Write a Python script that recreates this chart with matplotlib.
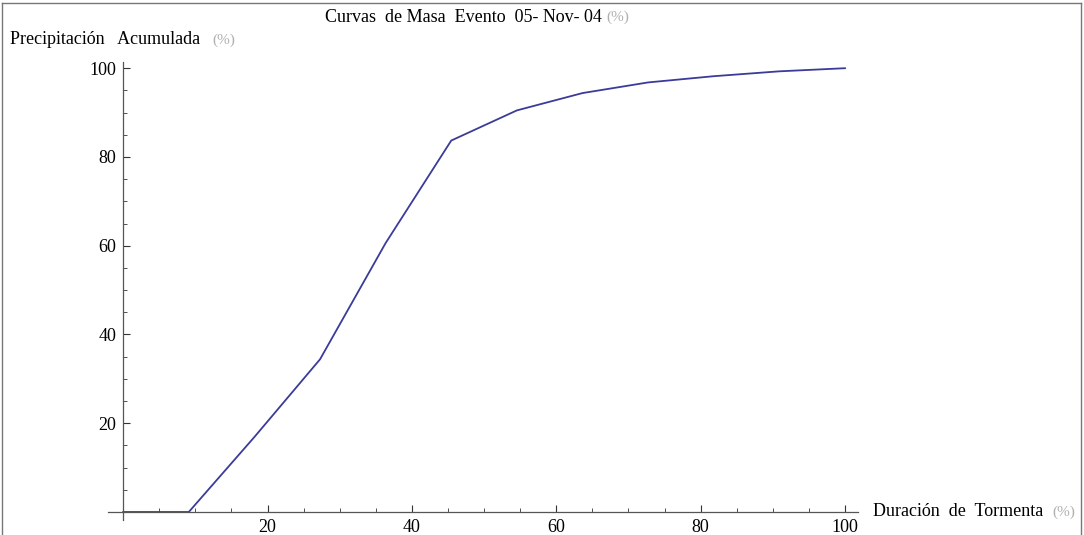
import matplotlib.pyplot as plt
from matplotlib.ticker import MultipleLocator

# data
duracion = [0, 9.09, 18.18, 27.27, 36.36, 45.45, 54.55, 63.64, 72.73, 81.82, 90.91, 100]
precipitacion = [0, 0, 16.9, 34.4, 60.6, 83.7, 90.5, 94.4, 96.8, 98.2, 99.3, 100]
x_ticks = [20, 40, 60, 80, 100]
y_ticks = [20, 40, 60, 80, 100]

TITLE = 'Curvas  de Masa  Evento  05- Nov- 04'
X_LABEL = 'Duración  de  Tormenta'
Y_LABEL = 'Precipitación   Acumulada'
FONT = 'Liberation Serif'
LINE_COLOR = '#3b3b99'
PCT_COLOR = '#b0b0b0'

W, H = 1084, 535
fig = plt.figure(figsize=(W / 100, H / 100), dpi=100)
plt.rcParams['font.family'] = FONT

# axes placed so that data 0 sits where the reference axes cross
ax = fig.add_axes([108 / W, (H - 520) / H, 750 / W, 458 / H])
ax.set_xlim(-2.1, 101.8)
ax.set_ylim(-1.8, 101.4)
ax.patch.set_alpha(0)

ax.plot(duracion, precipitacion, color=LINE_COLOR, lw=1.3, solid_joinstyle='miter')

for side in ('top', 'right'):
    ax.spines[side].set_visible(False)
ax.spines['left'].set_position(('data', 0))
ax.spines['bottom'].set_position(('data', 0))
for side in ('left', 'bottom'):
    ax.spines[side].set_color('#555555')
    ax.spines[side].set_linewidth(0.9)

ax.set_xticks(x_ticks)
ax.set_yticks(y_ticks)
ax.xaxis.set_minor_locator(MultipleLocator(5))
ax.yaxis.set_minor_locator(MultipleLocator(5))
ax.tick_params(which='major', direction='in', length=5, width=0.8, color='#333333',
               labelsize=13, pad=5)
ax.tick_params(which='minor', direction='in', length=3, width=0.6, color='#333333')
for lab in ax.get_xticklabels() + ax.get_yticklabels():
    lab.set_fontfamily(FONT)

# titles and axis labels as in the reference layout
fig.text(325 / W, 1 - 17 / H, TITLE, fontsize=13, family=FONT, va='center', ha='left')
fig.text(10 / W, 1 - 40 / H, Y_LABEL, fontsize=13, family=FONT, va='center', ha='left')
fig.text(873 / W, 1 - 512 / H, X_LABEL, fontsize=13, family=FONT, va='center', ha='left')

# the "(%)" parts are drawn pale in the reference
fig.text(629 / W, 1 - 17 / H, '(%)', fontsize=11, family=FONT, color=PCT_COLOR, va='center', ha='right')
fig.text(235 / W, 1 - 40 / H, '(%)', fontsize=11, family=FONT, color=PCT_COLOR, va='center', ha='right')
fig.text(1075 / W, 1 - 512 / H, '(%)', fontsize=11, family=FONT, color=PCT_COLOR, va='center', ha='right')

# thin frame around the image (left, top, right)
fig.add_artist(plt.Line2D([2 / W, 2 / W], [0, 1 - 3 / H], transform=fig.transFigure, color='#777777', lw=1))
fig.add_artist(plt.Line2D([2 / W, 1081 / W], [1 - 3 / H, 1 - 3 / H], transform=fig.transFigure, color='#777777', lw=1))
fig.add_artist(plt.Line2D([1081 / W, 1081 / W], [0, 1 - 3 / H], transform=fig.transFigure, color='#777777', lw=1))

fig.savefig('out.png', dpi=100)
